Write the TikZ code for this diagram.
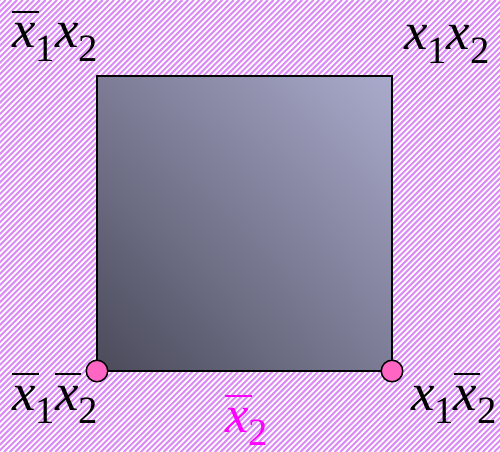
\documentclass[tikz,border=0pt]{standalone}
\usepackage{fontspec}
\setmainfont{Liberation Serif}
\usetikzlibrary{positioning,shadings}
\definecolor{stripe}{HTML}{DA8CF4}
\definecolor{sqdark}{HTML}{4A4A5A}
\definecolor{sqmid}{HTML}{7C7C96}
\definecolor{sqlight}{HTML}{AAAACC}
\definecolor{dotpink}{HTML}{FF66C4}
\definecolor{edgemag}{HTML}{FF00FF}
% literal x_i and negated literal, in text
\newcommand{\vx}[1]{\textit{x}\raisebox{-0.25em}{\fontsize{22}{24}\selectfont #1}}
\newcommand{\nx}[1]{\rlap{\rule[0.66em]{0.5em}{0.035em}}\vx{#1}}

\begin{document}
\begin{tikzpicture}[x=0.02cm,y=-0.02cm,
  lbl/.style={inner sep=0pt,font=\fontsize{30}{36}\selectfont},
  corner/.style={circle,draw=black,fill=dotpink,line width=0.03cm,minimum size=0.43cm,inner sep=0pt}]
\useasboundingbox (0,0) rectangle (500,452);
\fill[white] (0,0) rectangle (500,452);

% Diagonal hatching of the background
\begin{scope}
\clip (0,0) rectangle (500,452);
\foreach \c in {0,5.7,...,960} {
  \draw[stripe,line width=0.04cm] (\c,0) -- (\c-452,452);
}
\end{scope}

% The unit square
\shade[lower left=sqdark,upper right=sqlight,upper left=sqmid,lower right=sqmid] (97,76) rectangle (392,371);
\draw[black,line width=0.04cm] (97,76) rectangle (392,371);

% Marked corners
\node[corner] (c00) at (97,371) {};
\node[corner] (c10) at (392,371) {};

% Corner labels
\node[lbl,anchor=base west] (l01) at (12,48) {\nx{1}\vx{2}};
\node[lbl,anchor=base east] (l11) at (490,50) {\vx{1}\vx{2}};
\node[lbl,anchor=base west] (l00) at (12,410) {\nx{1}\nx{2}};
\node[lbl,anchor=base east] (l10) at (497,410) {\vx{1}\nx{2}};
\node[lbl,anchor=base west,text=edgemag] (edge) at (225,432) {\nx{2}};

\end{tikzpicture}
\end{document}
